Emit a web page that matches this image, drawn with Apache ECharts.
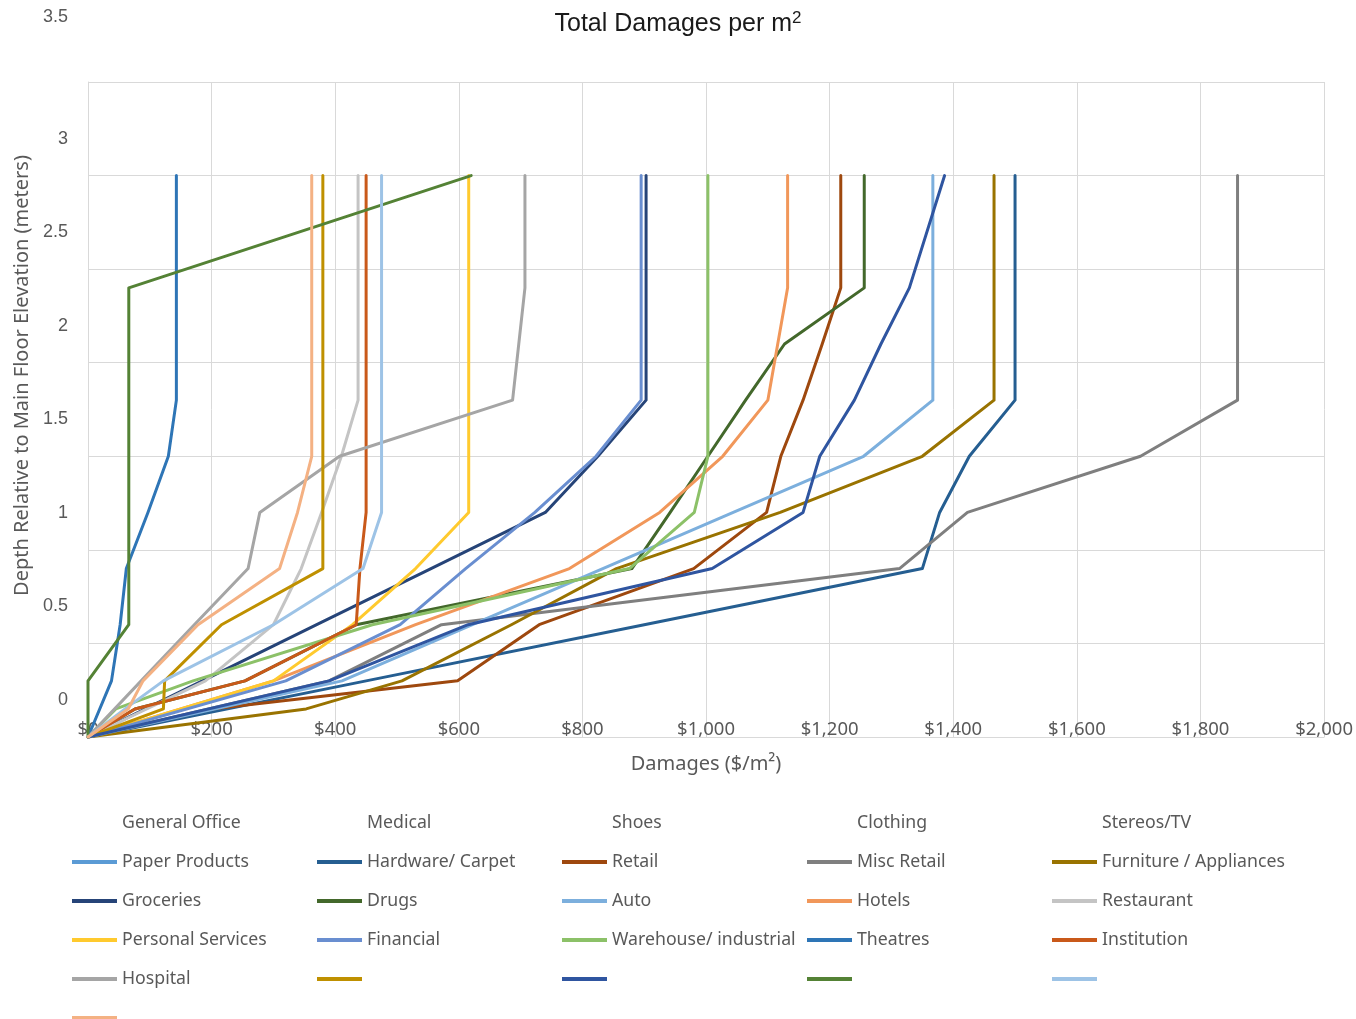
<!DOCTYPE html>
<html>
<head>
<meta charset="utf-8">
<script src="https://cdn.jsdelivr.net/npm/echarts@6/dist/echarts.min.js"></script>
<style>
  html, body { margin: 0; padding: 0; background: #fff; }
  #main { width: 1356px; height: 1019px; }
</style>
</head>
<body>
<div id="main"></div>
<script>
// depth levels (m) shared by every curve, damages ($/m2) per level, null = no point there
const depths = [0, 0.15, 0.3, 0.6, 0.9, 1.2, 1.5, 1.8, 2.1, 2.4, 3.0];

const headerNames = ['General Office', 'Medical', 'Shoes', 'Clothing', 'Stereos/TV'];

const paperProducts = [];
const hardwareCarpet = [0, null, 450, 900, 1350, 1378, 1426, 1500, 1500, 1500, 1500];
const retail = [0, 200, 598, 730, 980, 1098, 1121, 1157, 1188, 1218, 1218];
const miscRetail = [0, null, 390, 572, 1313, 1423, 1703, 1860, 1860, 1860, 1860];
const furniture = [0, 353, 508, 685, 855, 1120, 1350, 1466, 1466, 1466, 1466];
const groceries = [0, null, 185, 370, 555, 740, 825, 903, 903, 903, 903];
const drugs = [0, 76, 254, 434, 880, 942, 1003, 1064, 1127, 1256, 1256];
const auto = [0, null, 411, 622, 833, 1044, 1255, 1367, 1367, 1367, 1367];
const hotels = [0, null, 300, 530, 779, 925, 1027, 1100, 1116, 1132, 1132];
const restaurant = [0, null, 190, 300, 345, 378, 410, 437, 437, 437, 437];
const personalServices = [0, null, 300, 428, 530, 616, 616, 616, 616, 616, 616];
const financial = [0, null, 320, 505, 611, 723, 822, 895, 895, 895, 895];
const warehouse = [0, 45, 170, 460, 876, 981, 1003, 1003, 1003, 1003, 1003];
const theatres = [0, null, 38, 52, 62, 97, 130, 143, 143, 143, 143];
const institution = [0, 76, 254, 434, 440, 450, 450, 450, 450, 450, 450];
const hospital = [0, null, 86, 172, 259, 278, 407, 687, 697, 707, 707];
const unnamedGold = [0, 122, 124, 216, 380, 380, 380, 380, 380, 380, 380];
const unnamedBlue = [0, null, 390, 615, 1010, 1157, 1184, 1240, 1283, 1329, 1386];
const unnamedGreen = [0, null, 0, 66, 66, 66, 66, 66, 66, 66, 620];
const unnamedPaleBlue = [0, 60, 122, 300, 445, 475, 475, 475, 475, 475, 475];
const unnamedPaleOrange = [0, 65, 89, 178, 310, 339, 362, 362, 362, 362, 362];

const xTicks = [0, 200, 400, 600, 800, 1000, 1200, 1400, 1600, 1800, 2000];
const yTicks = [0, 0.5, 1, 1.5, 2, 2.5, 3, 3.5];

// name, label shown in legend, values, colour
const curves = [
  ['Paper Products', 'Paper Products', paperProducts, '#5B9BD5'],
  ['Hardware/ Carpet', 'Hardware/ Carpet', hardwareCarpet, '#255E91'],
  ['Retail', 'Retail', retail, '#9E480E'],
  ['Misc Retail', 'Misc Retail', miscRetail, '#7F7F7F'],
  ['Furniture / Appliances', 'Furniture / Appliances', furniture, '#997300'],
  ['Groceries', 'Groceries', groceries, '#264478'],
  ['Drugs', 'Drugs', drugs, '#43682B'],
  ['Auto', 'Auto', auto, '#7CAFDD'],
  ['Hotels', 'Hotels', hotels, '#F1975A'],
  ['Restaurant', 'Restaurant', restaurant, '#C4C4C4'],
  ['Personal Services', 'Personal Services', personalServices, '#FFCA2E'],
  ['Financial', 'Financial', financial, '#698ED0'],
  ['Warehouse/ industrial', 'Warehouse/ industrial', warehouse, '#8CC168'],
  ['Theatres', 'Theatres', theatres, '#2E75B6'],
  ['Institution', 'Institution', institution, '#C9591A'],
  ['Hospital', 'Hospital', hospital, '#A5A5A5'],
  ['s22', '', unnamedGold, '#BF9000'],
  ['s23', '', unnamedBlue, '#2F55A0'],
  ['s24', '', unnamedGreen, '#548235'],
  ['s25', '', unnamedPaleBlue, '#9DC3E6'],
  ['s26', '', unnamedPaleOrange, '#F4B183']
];

const legendText = {};
const series = [];
headerNames.forEach(n => {
  legendText[n] = n;
  series.push({
    name: n, type: 'line', data: [],
    itemStyle: { color: 'rgba(0,0,0,0)' },
    lineStyle: { color: 'rgba(0,0,0,0)' }
  });
});
curves.forEach(c => {
  legendText[c[0]] = c[1];
  const pts = [];
  c[2].forEach((v, i) => { if (v !== null) pts.push([v, depths[i]]); });
  series.push({
    name: c[0], type: 'line', data: pts,
    showSymbol: false, symbol: 'none',
    itemStyle: { color: c[3] },
    lineStyle: { color: c[3], width: 3, join: 'round', cap: 'round' },
    emphasis: { disabled: true },
    animation: false
  });
});

const chart = echarts.init(document.getElementById('main'));
const grey = '#595959';
const uiFont = '"Noto Sans", "Open Sans", sans-serif';
const narrow = '"Liberation Sans Narrow", "Liberation Sans", Arial, sans-serif';

chart.setOption({
  backgroundColor: '#ffffff',
  animation: false,
  title: {
    text: 'Total Damages per m{sup|2}',
    left: 'center',
    top: 5,
    textStyle: {
      fontFamily: narrow, fontSize: 25, fontWeight: 'normal', color: '#1a1a1a',
      rich: { sup: { fontFamily: narrow, fontSize: 17, color: '#1a1a1a', padding: [0, 0, 12, 0] } }
    }
  },
  grid: { left: 88, right: 31, top: 82, bottom: 282 },
  xAxis: {
    type: 'value', min: 0, max: 2000, interval: 200,
    name: 'Damages ($/m²)', nameLocation: 'middle', nameGap: 17,
    nameTextStyle: { color: grey, fontFamily: uiFont, fontSize: 20 },
    axisLine: { show: true, lineStyle: { color: '#D9D9D9' } },
    axisTick: { show: false },
    splitLine: { show: true, lineStyle: { color: '#D9D9D9', width: 1 } },
    axisLabel: {
      color: grey, fontFamily: uiFont, fontSize: 18.5, margin: -17,
      formatter: v => xTicks.indexOf(v) >= 0 ? '$' + v.toLocaleString('en-US') : ''
    }
  },
  yAxis: {
    type: 'value', min: 0, max: 3.5, interval: 0.5,
    name: 'Depth Relative to Main Floor Elevation (meters)',
    nameLocation: 'middle', nameGap: 54,
    nameTextStyle: { color: grey, fontFamily: uiFont, fontSize: 20, padding: [0, 0, 0, 68] },
    axisLine: { show: true, lineStyle: { color: '#D9D9D9' } },
    axisTick: { show: false },
    splitLine: { show: true, lineStyle: { color: '#D9D9D9', width: 1 } },
    axisLabel: {
      color: grey, fontFamily: narrow, fontSize: 18, margin: 20,
      formatter: v => {
        if (yTicks.indexOf(v) < 0) return '';
        return v === 3.5 ? '{hi|' + v + '}' : '{n|' + v + '}';
      },
      rich: {
        n: { padding: [0, 0, 74, 0] },
        hi: { padding: [0, 0, 130, 0] }
      }
    }
  },
  legend: {
    left: 72, top: 806, width: 1240, padding: 0,
    icon: 'rect', itemWidth: 45, itemHeight: 4, itemGap: 5,
    selectedMode: false,
    formatter: n => legendText[n] === '' ? ' ' : legendText[n],
    textStyle: { color: grey, fontFamily: uiFont, fontSize: 17.7, width: 190, height: 34, lineHeight: 34 },
    data: headerNames.concat(curves.map(c => c[0]))
  },
  series: series
});
</script>
</body>
</html>
